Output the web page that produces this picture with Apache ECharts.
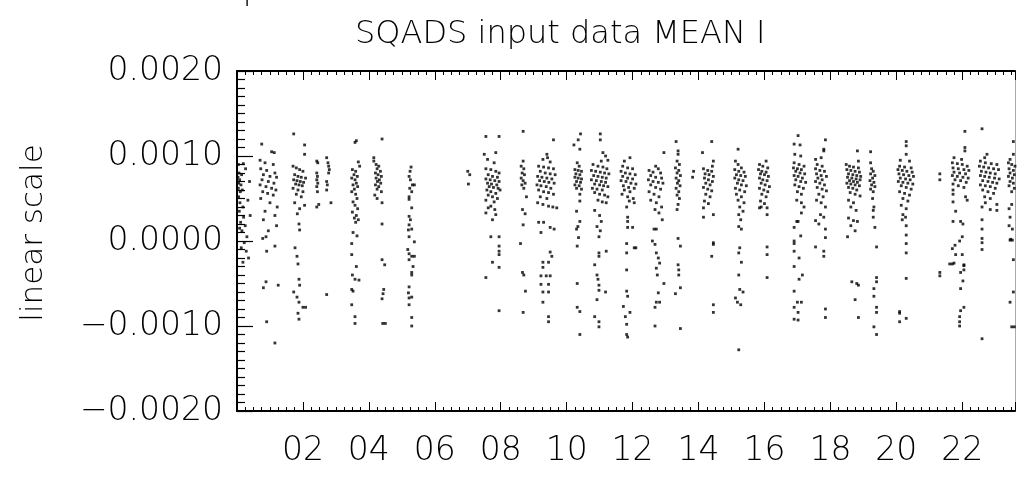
<!DOCTYPE html>
<html><head><meta charset="utf-8">
<script src="https://cdn.jsdelivr.net/npm/echarts@6/dist/echarts.min.js"></script>
<style>html,body{margin:0;padding:0;background:#fff}#c{width:1018px;height:480px}</style>
</head><body><div id="c"></div>
<script>
// ---- data: [hour of day, mean value] ----
const titleText = 'SQADS input data MEAN I';
const yAxisName = 'linear scale';
const topText = '20 Apr';
const xTicks = [2,4,6,8,10,12,14,16,18,20,22];
const yTicks = [-0.002,-0.001,0,0.001,0.002];

const cA = [[0.03,.00075],[0.05,.00068],[0.06,.00080],[0.04,.00062],[0.08,.00072],[0.10,.00058],[0.12,.00066],[0.05,.00052],[0.09,.00045],[0.14,.00078],[0.16,.00060],[0.18,.00040],[0.07,.00035],[0.20,.00028],[0.11,.00022],[0.25,.00018],[0.15,.00012],[0.30,.00005],[0.22,-.00002],[0.13,-.00008],[0.28,-.00012],[0.35,-.00020],[0.18,-.00025],[0.40,.00030],[0.33,.00048],[0.38,.00070],[0.26,.00085],[0.04,.00090],[0.19,.00091],[0.08,.00015]];
const cB = [[0.75,.00114],[1.05,.00105],[1.13,.00104],[0.70,.00095],[0.85,.00092],[1.10,.00090],[0.72,.00085],[0.90,.00083],[1.15,.00080],[0.80,.00078],[1.00,.00076],[1.20,.00075],[0.76,.00072],[0.95,.00070],[1.12,.00068],[0.70,.00066],[0.88,.00064],[1.05,.00062],[1.18,.00060],[0.78,.00058],[0.93,.00056],[1.10,.00054],[0.72,.00050],[1.00,.00045],[1.22,.00040],[0.85,.00035],[1.15,.00030],[0.80,.00025],[1.20,.00018],[0.95,.00012],[0.88,.00005],[0.78,.00003],[1.15,-.00006],[0.90,-.00012],[0.88,-.00048],[1.25,-.00052],[0.80,-.00055],[0.90,-.00095],[1.15,-.00120]];
const cC = [[1.72,.00126],[2.05,.00113],[2.05,.00102],[1.70,.00088],[1.80,.00086],[1.90,.00084],[2.00,.00082],[1.75,.00078],[1.85,.00076],[1.95,.00075],[2.08,.00074],[1.72,.00072],[1.82,.00071],[1.92,.00070],[2.02,.00069],[1.78,.00067],[1.88,.00066],[1.98,.00065],[1.70,.00062],[1.85,.00060],[2.00,.00058],[1.80,.00055],[1.95,.00052],[1.75,.00045],[1.90,.00038],[2.05,.00042],[1.83,.00032],[1.88,.00020],[1.90,.00013],[1.76,-.00008],[1.82,-.00018],[1.85,-.00027],[1.88,-.00045],[1.90,-.00052],[1.72,-.00060],[1.82,-.00066],[1.88,-.00072],[2.00,-.00078],[1.85,-.00085],[1.88,-.00092],[2.08,-.00078]];
const cD = [[2.42,.00094],[2.45,.00092],[2.42,.00080],[2.44,.00076],[2.42,.00072],[2.45,.00068],[2.42,.00064],[2.44,.00058],[2.48,.00043],[2.42,.00040],[2.72,.00098],[2.76,.00092],[2.78,.00088],[2.80,.00084],[2.78,.00080],[2.72,.00070],[2.74,.00066],[2.72,.00060],[2.85,.00045],[2.72,-.00063]];
const cE = [[3.58,.00116],[3.62,.00118],[3.68,.00093],[3.72,.00088],[3.50,.00084],[3.60,.00082],[3.55,.00078],[3.65,.00076],[3.48,.00074],[3.58,.00072],[3.62,.00068],[3.52,.00066],[3.66,.00064],[3.56,.00061],[3.48,.00058],[3.60,.00055],[3.64,.00050],[3.52,.00046],[3.58,.00042],[3.66,.00038],[3.50,.00034],[3.62,.00030],[3.56,.00027],[3.60,.00022],[3.68,.00025],[3.52,.00010],[3.64,.00006],[3.48,-.00003],[3.48,-.00016],[3.62,-.00030],[3.50,-.00040],[3.58,-.00045],[3.70,-.00046],[3.48,-.00057],[3.52,-.00059],[3.48,-.00075],[3.58,-.00089],[3.58,-.00097]];
const cF = [[4.40,.00120],[4.15,.00098],[4.15,.00094],[4.22,.00090],[4.30,.00088],[4.25,.00085],[4.35,.00082],[4.20,.00080],[4.28,.00078],[4.38,.00076],[4.22,.00074],[4.32,.00072],[4.26,.00070],[4.36,.00068],[4.20,.00066],[4.30,.00064],[4.25,.00061],[4.38,.00058],[4.18,.00054],[4.25,.00050],[4.40,.00045],[4.40,.00020],[4.40,-.00022],[4.48,-.00028],[4.45,-.00057],[4.43,-.00062],[4.40,-.00068],[4.42,-.00097],[4.50,-.00097]];
const cG = [[5.28,.00087],[5.25,.00082],[5.22,.00076],[5.26,.00072],[5.32,.00066],[5.38,.00066],[5.24,.00062],[5.30,.00058],[5.22,.00052],[5.22,.00049],[5.30,.00039],[5.22,.00029],[5.26,.00025],[5.22,.00019],[5.30,.00014],[5.20,.00013],[5.22,.00005],[5.38,-.00001],[5.18,-.00010],[5.22,-.00015],[5.30,-.00018],[5.38,-.00018],[5.22,-.00022],[5.34,-.00030],[5.30,-.00037],[5.30,-.00040],[5.22,-.00054],[5.20,-.00061],[5.30,-.00066],[5.22,-.00067],[5.22,-.00075],[5.30,-.00090],[5.30,-.00100]];
const cH = [[7.00,.00082],[7.06,.00078],[7.02,.00067]];
const cI = [[7.55,.00123],[7.95,.00123],[7.85,.00104],[7.50,.00102],[7.60,.00096],[7.80,.00092],[7.55,.00085],[7.70,.00084],[7.85,.00082],[7.95,.00080],[7.62,.00078],[7.75,.00076],[7.90,.00075],[7.55,.00073],[7.68,.00072],[7.82,.00071],[7.95,.00070],[7.60,.00068],[7.72,.00067],[7.88,.00066],[7.65,.00064],[7.78,.00063],[7.92,.00062],[7.58,.00060],[7.70,.00058],[7.85,.00056],[7.98,.00060],[7.62,.00054],[7.75,.00052],[7.90,.00050],[7.55,.00048],[7.80,.00046],[7.70,.00041],[7.62,.00039],[7.82,.00037],[7.55,.00033],[7.85,.00031],[7.75,.00025],[7.70,.00005],[7.95,.00005],[7.95,-.00006],[7.95,-.00012],[7.95,-.00016],[7.75,-.00025],[7.95,-.00031],[7.55,-.00043],[7.95,-.00082]];
const cJ = [[8.68,.00129],[8.68,.00094],[8.62,.00088],[8.70,.00085],[8.65,.00080],[8.72,.00078],[8.62,.00074],[8.68,.00071],[8.74,.00068],[8.64,.00066],[8.70,.00062],[8.78,.00052],[8.66,.00037],[8.74,.00032],[8.68,.00019],[8.60,-.00003],[8.66,-.00037],[8.70,-.00040],[8.75,-.00059],[8.68,-.00084]];
const cK = [[9.60,.00119],[9.40,.00102],[9.28,.00096],[9.42,.00098],[9.50,.00093],[9.15,.00088],[9.30,.00087],[9.45,.00086],[9.60,.00085],[9.20,.00082],[9.35,.00080],[9.50,.00079],[9.65,.00078],[9.12,.00076],[9.25,.00075],[9.40,.00074],[9.55,.00073],[9.18,.00071],[9.32,.00070],[9.46,.00069],[9.62,.00068],[9.10,.00066],[9.22,.00065],[9.38,.00064],[9.52,.00062],[9.15,.00060],[9.30,.00058],[9.45,.00057],[9.60,.00055],[9.20,.00052],[9.40,.00050],[9.12,.00045],[9.28,.00043],[9.45,.00041],[9.58,.00040],[9.70,.00039],[9.15,.00022],[9.30,.00022],[9.50,.00016],[9.62,.00014],[9.22,.00010],[9.50,-.00013],[9.55,-.00018],[9.28,-.00025],[9.45,-.00025],[9.28,-.00031],[9.22,-.00041],[9.38,-.00041],[9.50,-.00041],[9.22,-.00051],[9.45,-.00051],[9.28,-.00060],[9.45,-.00060],[9.28,-.00072],[9.45,-.00089],[9.45,-.00095]];
const cL = [[10.42,.00126],[10.35,.00119],[10.22,.00113],[10.40,.00108],[10.32,.00092],[10.38,.00088],[10.25,.00084],[10.35,.00083],[10.45,.00082],[10.28,.00079],[10.40,.00078],[10.25,.00075],[10.35,.00074],[10.45,.00073],[10.30,.00070],[10.42,.00069],[10.25,.00066],[10.38,.00065],[10.30,.00062],[10.45,.00061],[10.40,.00055],[10.40,.00047],[10.30,.00035],[10.40,.00023],[10.34,.00017],[10.30,.00014],[10.36,.00004],[10.32,-.00006],[10.32,-.00050],[10.32,-.00078],[10.40,-.00083],[10.40,-.00110]];
const cM = [[11.02,.00126],[11.02,.00119],[11.10,.00104],[11.18,.00100],[11.05,.00094],[11.25,.00095],[10.80,.00090],[10.95,.00088],[11.10,.00087],[11.22,.00085],[10.75,.00083],[10.88,.00082],[11.02,.00081],[11.15,.00080],[11.28,.00079],[10.82,.00077],[10.95,.00076],[11.08,.00075],[11.20,.00074],[10.75,.00072],[10.90,.00071],[11.05,.00070],[11.18,.00069],[10.85,.00067],[11.00,.00066],[11.12,.00065],[11.25,.00064],[10.78,.00062],[10.92,.00061],[11.08,.00060],[10.85,.00057],[11.00,.00055],[11.15,.00054],[11.25,.00052],[10.95,.00048],[11.08,.00046],[11.20,.00045],[10.85,.00036],[11.00,.00030],[11.05,.00023],[10.92,.00017],[11.02,.00012],[10.98,.00005],[11.20,-.00012],[10.98,-.00014],[10.98,-.00018],[10.85,-.00028],[10.92,-.00040],[10.95,-.00045],[10.98,-.00052],[10.98,-.00058],[11.18,-.00060],[10.92,-.00069],[10.85,-.00089],[10.98,-.00095],[10.98,-.00101]];
const cN = [[11.92,.00098],[11.75,.00094],[11.70,.00088],[11.85,.00086],[12.00,.00085],[11.65,.00082],[11.78,.00080],[11.92,.00079],[12.08,.00078],[11.70,.00076],[11.85,.00074],[12.00,.00073],[11.65,.00071],[11.80,.00070],[11.95,.00068],[12.10,.00067],[11.72,.00065],[11.88,.00063],[12.05,.00062],[11.75,.00060],[11.92,.00058],[11.68,.00055],[11.85,.00052],[12.02,.00050],[11.90,.00047],[12.05,.00045],[11.82,.00040],[11.85,.00028],[11.85,.00023],[11.85,.00016],[12.00,.00016],[11.82,-.00003],[12.05,-.00008],[11.82,-.00014],[12.10,-.00008],[11.82,-.00034],[11.82,-.00059],[11.85,-.00065],[11.72,-.00077],[11.92,-.00084],[11.78,-.00089],[11.82,-.00098],[11.82,-.00110],[11.85,-.00113]];
const cO = [[12.95,.00104],[12.70,.00088],[12.78,.00085],[12.50,.00083],[12.62,.00081],[12.85,.00080],[12.55,.00077],[12.70,.00075],[12.88,.00074],[12.48,.00072],[12.62,.00070],[12.78,.00069],[12.92,.00068],[12.55,.00066],[12.70,.00063],[12.85,.00061],[12.50,.00058],[12.65,.00055],[12.80,.00052],[12.55,.00048],[12.72,.00045],[12.88,.00040],[12.68,.00037],[12.80,.00033],[12.90,.00025],[12.65,.00014],[12.72,.00014],[12.60,.00000],[12.68,-.00004],[12.72,-.00014],[12.78,-.00020],[12.82,-.00026],[12.72,-.00032],[12.75,-.00040],[12.95,-.00050],[12.78,-.00061],[12.72,-.00072],[12.82,-.00072],[12.68,-.00078],[12.68,-.00100]];
const cP = [[13.32,.00117],[13.38,.00106],[13.38,.00102],[13.35,.00094],[13.42,.00090],[13.30,.00086],[13.40,.00083],[13.35,.00080],[13.45,.00077],[13.32,.00074],[13.40,.00071],[13.36,.00068],[13.44,.00065],[13.32,.00062],[13.40,.00058],[13.35,.00054],[13.42,.00050],[13.38,.00043],[13.35,.00037],[13.38,.00003],[13.45,-.00006],[13.38,-.00028],[13.40,-.00034],[13.40,-.00040],[13.45,-.00055],[13.30,-.00062],[13.45,-.00103],[13.85,.00082],[13.82,.00075]];
const cQ = [[14.40,.00117],[14.12,.00104],[14.45,.00094],[14.42,.00088],[14.15,.00085],[14.28,.00083],[14.40,.00082],[14.20,.00079],[14.32,.00078],[14.45,.00076],[14.18,.00074],[14.30,.00072],[14.42,.00070],[14.22,.00068],[14.35,.00066],[14.15,.00063],[14.28,.00061],[14.40,.00059],[14.22,.00055],[14.35,.00052],[14.18,.00047],[14.30,.00044],[14.15,.00039],[14.15,.00028],[14.45,.00031],[14.45,-.00002],[14.45,-.00004],[14.40,-.00018],[14.45,-.00075],[14.45,-.00084]];
const cR = [[15.20,.00108],[15.12,.00094],[15.20,.00090],[15.30,.00086],[15.10,.00084],[15.22,.00082],[15.38,.00081],[15.15,.00078],[15.28,.00077],[15.42,.00076],[15.10,.00074],[15.22,.00072],[15.35,.00071],[15.18,.00068],[15.30,.00066],[15.45,.00065],[15.12,.00062],[15.25,.00060],[15.40,.00058],[15.15,.00055],[15.30,.00052],[15.20,.00048],[15.38,.00045],[15.25,.00040],[15.35,.00035],[15.22,.00031],[15.28,.00025],[15.30,.00014],[15.22,.00017],[15.25,-.00008],[15.22,-.00014],[15.30,-.00025],[15.22,-.00040],[15.25,-.00057],[15.35,-.00060],[15.12,-.00067],[15.18,-.00072],[15.28,-.00075],[15.22,-.00128]];
const cS = [[16.05,.00094],[15.85,.00090],[15.95,.00088],[16.10,.00086],[15.82,.00084],[15.92,.00082],[16.05,.00081],[15.88,.00079],[16.00,.00078],[16.12,.00076],[15.85,.00074],[15.95,.00072],[16.08,.00071],[15.90,.00068],[16.02,.00066],[16.15,.00064],[15.85,.00062],[15.98,.00060],[16.10,.00058],[15.92,.00055],[16.05,.00052],[15.88,.00047],[16.00,.00044],[15.90,.00040],[15.85,.00039],[16.08,.00039],[16.08,.00031],[16.08,-.00007],[16.08,-.00016],[16.08,-.00043]];
const cT = [[17.02,.00124],[16.90,.00114],[17.08,.00113],[16.92,.00102],[17.10,.00100],[16.90,.00092],[17.05,.00090],[17.20,.00088],[16.88,.00086],[17.00,.00085],[17.12,.00084],[16.95,.00082],[17.08,.00080],[17.22,.00079],[16.90,.00077],[17.02,.00076],[17.15,.00074],[16.95,.00072],[17.10,.00070],[17.25,.00069],[16.92,.00066],[17.05,.00064],[17.18,.00062],[17.00,.00058],[17.12,.00055],[16.98,.00048],[17.12,.00045],[17.20,.00040],[17.12,.00033],[16.98,.00023],[17.02,.00023],[16.90,.00016],[16.90,.00000],[17.10,.00006],[16.90,-.00003],[16.90,-.00012],[16.90,-.00030],[17.05,-.00020],[17.05,-.00045],[17.15,-.00040],[16.90,-.00059],[17.00,-.00072],[17.12,-.00072],[16.90,-.00078],[17.02,-.00084],[16.90,-.00092],[17.02,-.00093]];
const cU = [[17.85,.00119],[17.80,.00108],[17.80,.00106],[17.55,.00096],[17.72,.00098],[17.60,.00090],[17.75,.00088],[17.55,.00085],[17.68,.00083],[17.82,.00082],[17.58,.00079],[17.72,.00077],[17.88,.00076],[17.62,.00074],[17.75,.00072],[17.55,.00070],[17.68,.00068],[17.82,.00066],[17.60,.00063],[17.75,.00061],[17.88,.00059],[17.65,.00055],[17.78,.00052],[17.58,.00048],[17.72,.00045],[17.85,.00040],[17.70,.00031],[17.80,.00028],[17.55,.00024],[17.65,.00020],[17.85,.00014],[17.85,.00004],[17.55,-.00007],[17.80,-.00012],[17.80,-.00018],[17.85,-.00080],[17.85,-.00090]];
const cV = [[18.82,.00106],[18.85,.00094],[18.48,.00090],[18.58,.00088],[18.70,.00087],[18.85,.00086],[18.50,.00084],[18.62,.00083],[18.75,.00082],[18.88,.00081],[18.55,.00079],[18.68,.00078],[18.80,.00077],[18.92,.00076],[18.52,.00075],[18.65,.00074],[18.78,.00073],[18.90,.00072],[18.58,.00071],[18.70,.00070],[18.82,.00069],[18.50,.00068],[18.62,.00067],[18.75,.00066],[18.88,.00065],[18.55,.00063],[18.68,.00062],[18.80,.00060],[18.60,.00057],[18.75,.00055],[18.90,.00053],[18.55,.00048],[18.70,.00045],[18.62,.00040],[18.78,.00036],[18.55,.00027],[18.70,.00024],[18.82,.00023],[18.62,.00018],[18.75,.00012],[18.52,.00005],[18.65,-.00048],[18.80,-.00050],[18.85,-.00052],[18.75,-.00069],[18.85,-.00090]];
const cW = [[19.22,.00105],[19.22,.00092],[19.25,.00085],[19.30,.00082],[19.22,.00079],[19.35,.00077],[19.28,.00074],[19.20,.00071],[19.32,.00069],[19.25,.00066],[19.35,.00064],[19.22,.00061],[19.30,.00058],[19.28,.00050],[19.32,.00040],[19.30,.00036],[19.30,.00028],[19.35,.00016],[19.40,-.00007],[19.40,-.00043],[19.40,-.00048],[19.32,-.00056],[19.32,-.00065],[19.40,-.00078],[19.40,-.00084],[19.32,-.00101],[19.40,-.00110]];
const cX = [[20.30,.00117],[20.30,.00112],[20.30,.00102],[20.12,.00095],[20.40,.00094],[20.10,.00088],[20.25,.00087],[20.45,.00086],[20.05,.00084],[20.18,.00083],[20.32,.00082],[20.48,.00081],[20.08,.00079],[20.22,.00078],[20.38,.00077],[20.52,.00076],[20.12,.00074],[20.28,.00073],[20.42,.00072],[20.06,.00070],[20.20,.00069],[20.35,.00068],[20.50,.00067],[20.15,.00065],[20.30,.00063],[20.45,.00061],[20.10,.00058],[20.25,.00056],[20.40,.00054],[20.20,.00050],[20.35,.00047],[20.15,.00042],[20.30,.00038],[20.20,.00031],[20.28,.00028],[20.18,.00025],[20.30,.00018],[20.30,.00007],[20.30,-.00003],[20.30,-.00014],[20.30,-.00044],[20.10,-.00083],[20.10,-.00085],[20.10,-.00095],[20.30,-.00091],[21.32,.00079],[21.32,.00072],[21.32,-.00037],[21.32,-.00041]];
const cZ = [[22.08,.00129],[22.08,.00110],[22.08,.00106],[21.75,.00098],[21.98,.00096],[21.70,.00092],[21.85,.00091],[22.00,.00090],[22.15,.00088],[21.72,.00086],[21.88,.00085],[22.05,.00084],[22.20,.00083],[21.75,.00081],[21.92,.00080],[22.10,.00079],[21.70,.00077],[21.85,.00076],[22.02,.00075],[22.18,.00074],[21.78,.00072],[21.95,.00071],[22.12,.00069],[21.72,.00067],[21.88,.00065],[22.05,.00063],[21.72,.00060],[21.72,.00055],[22.10,.00052],[22.15,.00048],[21.72,.00046],[21.80,.00035],[21.72,.00023],[21.95,.00023],[22.02,.00020],[22.00,.00005],[21.92,.00000],[21.78,-.00005],[21.70,-.00009],[21.80,-.00016],[22.00,-.00016],[22.05,-.00028],[22.05,-.00034],[21.62,-.00027],[21.70,-.00027],[21.75,-.00026],[22.05,-.00029],[21.95,-.00037],[22.02,-.00047],[21.95,-.00056],[22.05,-.00078],[21.95,-.00082],[21.92,-.00089],[21.92,-.00095],[21.92,-.00100]];
const cAA = [[22.60,.00132],[22.75,.00102],[22.68,.00098],[22.55,.00094],[22.70,.00092],[22.88,.00091],[23.05,.00090],[22.52,.00088],[22.65,.00087],[22.80,.00086],[22.95,.00085],[23.10,.00084],[22.58,.00082],[22.72,.00081],[22.85,.00080],[23.00,.00079],[22.55,.00077],[22.68,.00076],[22.82,.00075],[22.98,.00074],[23.12,.00073],[22.62,.00071],[22.78,.00070],[22.92,.00069],[23.05,.00068],[22.55,.00066],[22.70,.00065],[22.85,.00064],[23.00,.00062],[22.62,.00060],[22.78,.00058],[22.95,.00056],[22.68,.00052],[22.85,.00050],[22.70,.00045],[23.05,.00043],[22.60,.00040],[22.85,.00037],[23.05,.00036],[22.60,.00025],[22.60,.00014],[22.60,.00003],[22.60,-.00002],[22.60,-.00010],[22.60,-.00115]];
const cAB = [[23.55,.00117],[23.55,.00102],[23.45,.00096],[23.40,.00092],[23.50,.00090],[23.60,.00088],[23.42,.00085],[23.55,.00083],[23.45,.00080],[23.58,.00078],[23.40,.00076],[23.52,.00074],[23.62,.00072],[23.45,.00070],[23.55,.00068],[23.42,.00065],[23.58,.00062],[23.50,.00058],[23.50,.00043],[23.42,.00038],[23.45,.00028],[23.42,.00018],[23.52,.00014],[23.47,.00002],[23.45,.00001],[23.52,.00001],[23.55,-.00022],[23.55,-.00060],[23.45,-.00072],[23.62,-.00065],[23.50,-.00101],[23.58,-.00101],[23.62,-.00113]];

const allPoints = [].concat(cA,cB,cC,cD,cE,cF,cG,cH,cI,cJ,cK,cL,cM,cN,cO,cP,cQ,cR,cS,cT,cU,cV,cW,cX,cZ,cAA,cAB);

const FONT = 'DejaVu Sans';
const FW = 200;
const chart = echarts.init(document.getElementById('c'), null, {renderer: 'canvas'});
const xFmt = v => {
  const r = Math.round(v);
  if (Math.abs(v - r) > 1e-6 || !xTicks.includes(r)) return '';
  return (r < 10 ? '0' : '') + r;
};
const yFmt = v => {
  if (!yTicks.some(t => Math.abs(t - v) < 1e-9)) return '';
  return (v < -1e-9 ? '\u2212' : '') + Math.abs(v).toFixed(4);
};
chart.setOption({
  animation: false,
  backgroundColor: '#fff',
  title: {
    text: titleText, left: 350, top: 14,
    textStyle: {fontFamily: FONT, fontSize: 32, fontWeight: FW, color: '#000'}
  },
  graphic: [
    {type: 'text', x: 34, y: 233, rotation: Math.PI / 2,
     style: {text: yAxisName, fontFamily: FONT, fontSize: 31, fontWeight: FW, fill: '#000', align: 'center', verticalAlign: 'middle'}},
    {type: 'text', x: 170, y: -8,
     style: {text: topText, fontFamily: FONT, fontSize: 32, fontWeight: FW, fill: '#000', align: 'left', verticalAlign: 'middle'}}
  ],
  grid: {left: 237, top: 71, width: 780, height: 340, containLabel: false},
  xAxis: [{
    type: 'value', min: 0, max: 23.6, interval: 2, position: 'bottom',
    axisLine: {show: true, onZero: false, lineStyle: {color: '#000', width: 2}},
    axisTick: {show: true, inside: true, length: 9, lineStyle: {color: '#000', width: 1}},
    minorTick: {show: true, splitNumber: 8, length: 4, lineStyle: {color: '#000', width: 1}},
    axisLabel: {show: true, margin: 24, formatter: xFmt, fontFamily: FONT, fontSize: 33, fontWeight: FW, color: '#000'},
    splitLine: {show: false}
  }, {
    type: 'value', min: 0, max: 23.6, interval: 2, position: 'top',
    axisLine: {show: true, onZero: false, lineStyle: {color: '#000', width: 2}},
    axisTick: {show: true, inside: true, length: 9, lineStyle: {color: '#000', width: 1}},
    minorTick: {show: true, splitNumber: 8, length: 4, lineStyle: {color: '#000', width: 1}},
    axisLabel: {show: false}, splitLine: {show: false}
  }],
  yAxis: [{
    type: 'value', min: -0.002, max: 0.002, interval: 0.001, position: 'left',
    axisLine: {show: true, onZero: false, lineStyle: {color: '#000', width: 2}},
    axisTick: {show: true, inside: true, length: 16, lineStyle: {color: '#000', width: 1.2}},
    minorTick: {show: true, splitNumber: 10, length: 8, lineStyle: {color: '#000', width: 1.2}},
    axisLabel: {show: true, margin: 14, formatter: yFmt, fontFamily: FONT, fontSize: 33, fontWeight: FW, color: '#000'},
    splitLine: {show: false}
  }, {
    type: 'value', min: -0.002, max: 0.002, interval: 0.001, position: 'right',
    axisLine: {show: true, onZero: false, lineStyle: {color: '#aaa', width: 1}},
    axisTick: {show: false}, axisLabel: {show: false}, splitLine: {show: false}
  }],
  series: [{
    type: 'scatter', xAxisIndex: 0, yAxisIndex: 0,
    symbol: 'rect', symbolSize: 2.8,
    itemStyle: {color: '#000'},
    data: allPoints
  }]
});
</script>
</body></html>
